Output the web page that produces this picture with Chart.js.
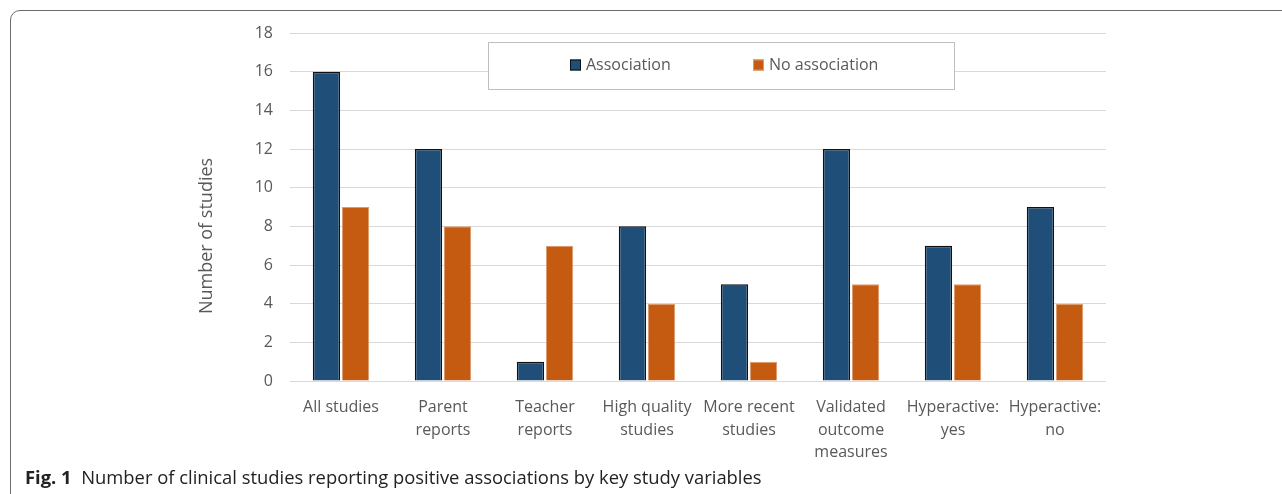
<!DOCTYPE html>
<html>
<head>
<meta charset="utf-8">
<script src="https://cdn.jsdelivr.net/npm/chart.js@4.4.1/dist/chart.umd.min.js"></script>
<style>
  html, body { margin: 0; padding: 0; background: #fff; }
  #wrap { position: relative; width: 1282px; height: 494px; overflow: hidden; }
  #frame {
    position: absolute; left: 10px; top: 10px; width: 1320px; height: 520px;
    border: 1.5px solid #6b6b6b; border-top-left-radius: 10px; box-sizing: border-box;
  }
  #chart { position: absolute; left: 0; top: 0; }
  #caption {
    position: absolute; left: 25px; top: 465px;
    font-family: "Open Sans", sans-serif; font-size: 18.4px; line-height: 24px; color: #222;
    white-space: pre;
  }
  #caption b { font-weight: 700; }
</style>
</head>
<body>
<div id="wrap">
  <div id="frame"></div>
  <canvas id="chart" width="1282" height="494"></canvas>
  <div id="caption"><b>Fig. 1</b>  Number of clinical studies reporting positive associations by key study variables</div>
</div>
<script>
const categories = [
  'All studies',
  ['Parent', 'reports'],
  ['Teacher', 'reports'],
  ['High quality', 'studies'],
  ['More recent', 'studies'],
  ['Validated', 'outcome', 'measures'],
  ['Hyperactive:', 'yes'],
  ['Hyperactive:', 'no']
];
const association = [16, 12, 1, 8, 5, 12, 7, 9];
const noAssociation = [9, 8, 7, 4, 1, 5, 5, 4];
const yTicks = [0, 2, 4, 6, 8, 10, 12, 14, 16, 18];

const textColor = '#595959';
const fontFamily = '"Open Sans", sans-serif';

// legend box sitting inside the plot, like the Excel original
const boxLegend = {
  id: 'boxLegend',
  afterDraw(chart) {
    const { ctx, chartArea } = chart;
    const x = chartArea.left + 198, y = chartArea.top + 9, w = 466, h = 47;
    ctx.save();
    ctx.fillStyle = '#fff';
    ctx.fillRect(x, y, w, h);
    ctx.strokeStyle = '#bfbfbf';
    ctx.lineWidth = 1;
    ctx.strokeRect(x + 0.5, y + 0.5, w, h);
    ctx.font = '16px ' + fontFamily;
    ctx.textBaseline = 'middle';
    const offsets = [82, 265];
    chart.data.datasets.forEach((ds, i) => {
      const sx = x + offsets[i];
      const cy = y + 23;
      ctx.fillStyle = ds.backgroundColor;
      ctx.fillRect(sx, cy - 5.5, 11, 11);
      ctx.strokeStyle = ds.borderColor;
      ctx.lineWidth = 1;
      ctx.strokeRect(sx + 0.5, cy - 5, 10, 10);
      ctx.fillStyle = textColor;
      ctx.fillText(ds.label, sx + 16, cy);
    });
    ctx.restore();
  }
};

// y axis title, drawn by hand to sit where the original has it
const yTitle = {
  id: 'yTitle',
  afterDraw(chart) {
    const { ctx } = chart;
    ctx.save();
    ctx.translate(207, 236);
    ctx.rotate(-Math.PI / 2);
    ctx.font = '18px ' + fontFamily;
    ctx.fillStyle = textColor;
    ctx.textAlign = 'center';
    ctx.textBaseline = 'middle';
    ctx.fillText('Number of studies', 0, 0);
    ctx.restore();
  }
};

new Chart(document.getElementById('chart'), {
  type: 'bar',
  plugins: [boxLegend, yTitle],
  data: {
    labels: categories,
    datasets: [{
      label: 'Association',
      data: association,
      backgroundColor: '#1f4e79',
      borderColor: '#111',
      borderWidth: 1.5,
      categoryPercentage: 0.57,
      barPercentage: 0.94
    }, {
      label: 'No association',
      data: noAssociation,
      backgroundColor: '#c55a11',
      borderColor: '#d99a6c',
      borderWidth: 1,
      categoryPercentage: 0.57,
      barPercentage: 0.94
    }]
  },
  options: {
    responsive: false,
    animation: false,
    layout: { padding: { left: 230, right: 176, top: 33, bottom: 0 } },
    plugins: {
      legend: { display: false },
      tooltip: { enabled: false }
    },
    scales: {
      x: {
        grid: { display: false },
        border: { display: false },
        ticks: {
          color: textColor,
          font: { family: fontFamily, size: 16, lineHeight: 1.42 },
          padding: 7,
          maxRotation: 0,
          autoSkip: false
        },
        afterFit(scale) { scale.height = 113; }
      },
      y: {
        min: 0,
        max: 18,
        afterBuildTicks(scale) { scale.ticks = yTicks.map(v => ({ value: v })); },
        grid: { color: '#d9d9d9', lineWidth: 1, drawTicks: false },
        border: { display: false },
        ticks: {
          color: textColor,
          font: { family: fontFamily, size: 16 },
          padding: 17
        },
        afterFit(scale) { scale.width = 60; }
      }
    }
  }
});
</script>
</body>
</html>
